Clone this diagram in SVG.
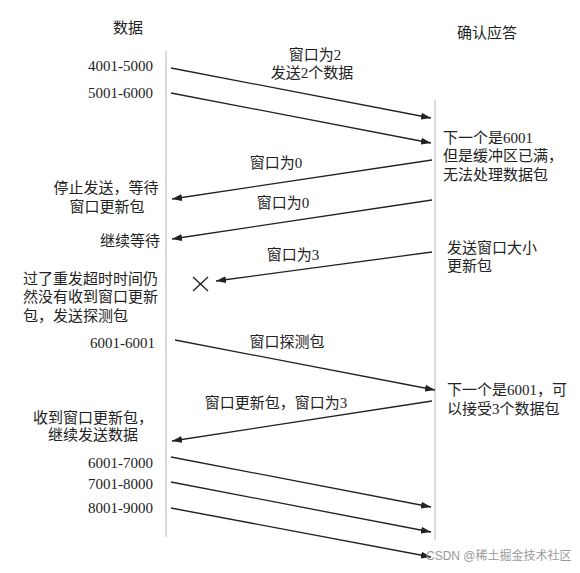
<svg xmlns="http://www.w3.org/2000/svg" width="580" height="573" viewBox="0 0 580 573">
<defs>
<style>
.t{font-family:"Liberation Serif","Noto Sans CJK SC",serif;font-size:15px;fill:#222;}
.m{text-anchor:middle;}
.e{text-anchor:end;}
.ln{stroke:#222;stroke-width:1.3;fill:none;}
.life{stroke:#c4c4c4;stroke-width:1.2;}
.wm{font-family:"Liberation Sans","Noto Sans CJK SC",sans-serif;font-size:12px;fill:#9a9a9a;}
</style>
<marker id="ah" markerUnits="userSpaceOnUse" markerWidth="10" markerHeight="8" refX="10" refY="4" orient="auto">
<path d="M0,0.5 L10,4 L0,7.5 z" fill="#222"/>
</marker>
</defs>
<rect width="580" height="573" fill="#fff"/>

<g id="lifelines">
<line class="life" x1="166" y1="51" x2="166" y2="537"/>
<line class="life" x1="435" y1="100" x2="435" y2="540"/>
</g>

<g id="sender">
<text class="t m" x="128" y="33">数据</text>
</g>
<g id="receiver">
<text class="t m" x="487" y="38">确认应答</text>
</g>

<g id="seg-4001"><text class="t e" x="153" y="71">4001-5000</text></g>
<g id="seg-5001"><text class="t e" x="153" y="98">5001-6000</text></g>
<g id="label-win2">
<text class="t m" x="315" y="60">窗口为2</text>
<text class="t m" x="312" y="78">发送2个数据</text>
</g>
<g id="recv-full">
<text class="t" x="443" y="143">下一个是6001</text>
<text class="t" x="443" y="161">但是缓冲区已满，</text>
<text class="t" x="443" y="180">无法处理数据包</text>
</g>
<g id="label-win0a"><text class="t m" x="276" y="168">窗口为0</text></g>
<g id="stop-wait">
<text class="t m" x="106" y="193">停止发送，等待</text>
<text class="t m" x="107" y="212">窗口更新包</text>
</g>
<g id="label-win0b"><text class="t m" x="283" y="208">窗口为0</text></g>
<g id="keep-wait"><text class="t e" x="160" y="246">继续等待</text></g>
<g id="label-win3a"><text class="t m" x="293" y="260">窗口为3</text></g>
<g id="send-update">
<text class="t" x="447" y="253">发送窗口大小</text>
<text class="t" x="447" y="271">更新包</text>
</g>
<g id="lost-mark">
<line class="ln" x1="193" y1="277" x2="208" y2="291"/>
<line class="ln" x1="208" y1="277" x2="193" y2="291"/>
</g>
<g id="timeout">
<text class="t" x="23" y="284">过了重发超时时间仍</text>
<text class="t" x="23" y="302">然没有收到窗口更新</text>
<text class="t" x="23" y="321">包，发送探测包</text>
</g>
<g id="seg-probe"><text class="t e" x="155" y="348">6001-6001</text></g>
<g id="label-probe"><text class="t m" x="287" y="347">窗口探测包</text></g>
<g id="recv-ok">
<text class="t" x="447" y="395">下一个是6001，可</text>
<text class="t" x="447" y="414">以接受3个数据包</text>
</g>
<g id="label-update"><text class="t m" x="276" y="408">窗口更新包，窗口为3</text></g>
<g id="resume">
<text class="t m" x="93" y="423">收到窗口更新包，</text>
<text class="t m" x="93" y="440">继续发送数据</text>
</g>
<g id="seg-6001"><text class="t e" x="153" y="468">6001-7000</text></g>
<g id="seg-7001"><text class="t e" x="153" y="489">7001-8000</text></g>
<g id="seg-8001"><text class="t e" x="153" y="513">8001-9000</text></g>

<g id="connectors">
<line class="ln" x1="171" y1="68" x2="431" y2="118" marker-end="url(#ah)"/>
<line class="ln" x1="171" y1="93" x2="431" y2="143" marker-end="url(#ah)"/>
<line class="ln" x1="432" y1="160" x2="172" y2="199" marker-end="url(#ah)"/>
<line class="ln" x1="432" y1="200" x2="172" y2="239" marker-end="url(#ah)"/>
<line class="ln" x1="432" y1="252" x2="216" y2="281" marker-end="url(#ah)"/>
<line class="ln" x1="175" y1="340" x2="435" y2="390" marker-end="url(#ah)"/>
<line class="ln" x1="432" y1="401" x2="172" y2="441" marker-end="url(#ah)"/>
<line class="ln" x1="171" y1="457" x2="431" y2="507" marker-end="url(#ah)"/>
<line class="ln" x1="171" y1="482" x2="431" y2="532" marker-end="url(#ah)"/>
<line class="ln" x1="171" y1="508" x2="431" y2="557" marker-end="url(#ah)"/>
</g>

<g id="watermark"><text class="wm" x="426" y="560">CSDN @稀土掘金技术社区</text></g>
</svg>
